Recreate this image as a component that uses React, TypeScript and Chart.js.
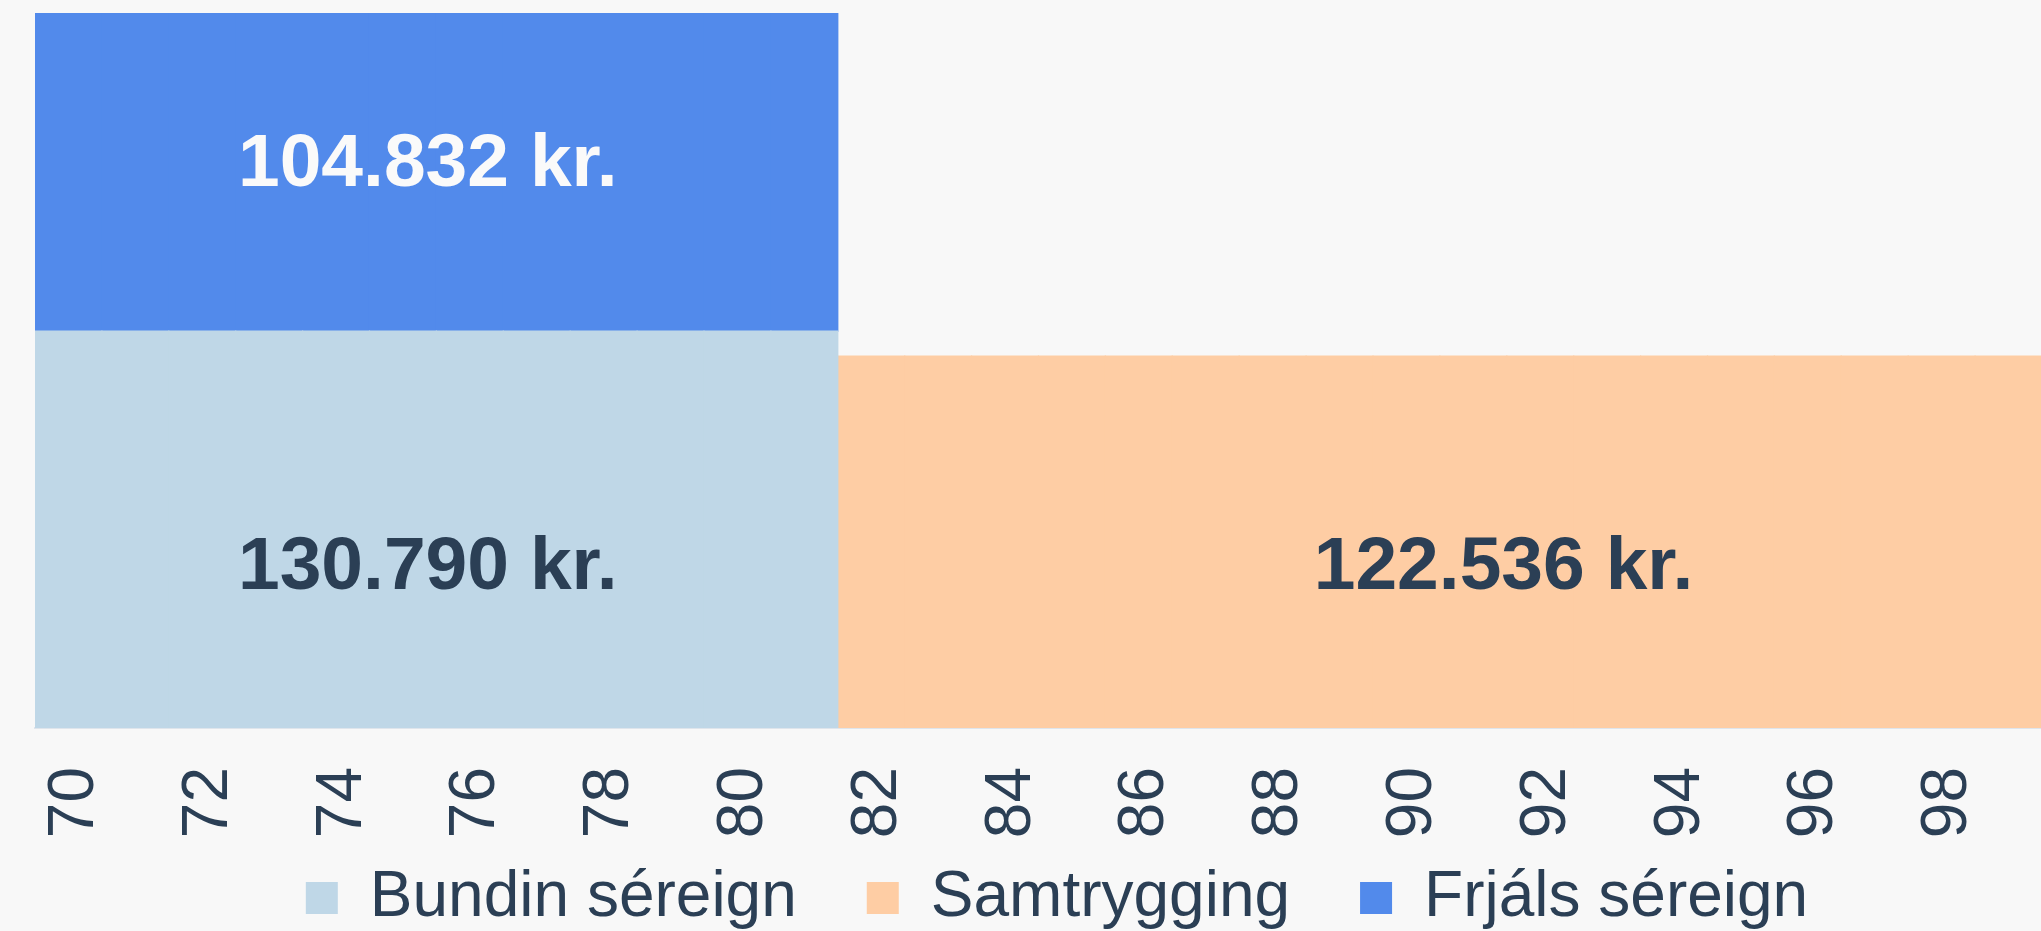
import React, { useEffect, useRef } from 'react';
import { Chart, registerables } from 'chart.js';

Chart.register(...registerables);

// ---- data ----
const categories = [
  70, 71, 72, 73, 74, 75, 76, 77, 78, 79, 80, 81, 82, 83, 84,
  85, 86, 87, 88, 89, 90, 91, 92, 93, 94, 95, 96, 97, 98, 99,
];
const bundinSereign = [
  130790, 130790, 130790, 130790, 130790, 130790, 130790, 130790, 130790, 130790, 130790, 130790,
  null, null, null, null, null, null, null, null, null, null, null, null, null, null, null, null, null, null,
];
const samtrygging = [
  null, null, null, null, null, null, null, null, null, null, null, null,
  122536, 122536, 122536, 122536, 122536, 122536, 122536, 122536, 122536,
  122536, 122536, 122536, 122536, 122536, 122536, 122536, 122536, 122536,
];
const frjalsSereign = [
  104832, 104832, 104832, 104832, 104832, 104832, 104832, 104832, 104832, 104832, 104832, 104832,
  null, null, null, null, null, null, null, null, null, null, null, null, null, null, null, null, null, null,
];
const seriesNames = ['Bundin séreign', 'Samtrygging', 'Frjáls séreign'];
const seriesColors = ['#bfd7e7', '#fecda4', '#528aeb'];

const FONT = '"Liberation Sans", Arial, Helvetica, sans-serif';
const TEXT = '#2b3f55';

function formatKr(v: number): string {
  return String(v).replace(/\B(?=(\d{3})+(?!\d))/g, '.') + ' kr.';
}

const regionLabels = {
  id: 'regionLabels',
  afterDatasetsDraw(chart: any, _args: any, opts: any) {
    const { ctx } = chart;
    const x = chart.scales.x;
    const y = chart.scales.y;
    for (const item of opts.items || []) {
      const ds = chart.data.datasets[item.dataset];
      const value = ds.data.find((v: any) => v != null);
      const i0 = Math.floor(item.at);
      const p0 = x.getPixelForValue(i0);
      const p1 = x.getPixelForValue(i0 + 1);
      const px = p0 + (p1 - p0) * (item.at - i0);
      const py = y.getPixelForValue(item.level);
      ctx.save();
      ctx.font = `bold 75px ${FONT}`;
      ctx.fillStyle = item.color;
      ctx.textAlign = 'center';
      ctx.textBaseline = 'middle';
      ctx.fillText(formatKr(value), px, py);
      ctx.restore();
    }
  },
};

export default function App() {
  const canvasRef = useRef<HTMLCanvasElement | null>(null);

  useEffect(() => {
    if (!canvasRef.current) return;
    const series = [bundinSereign, samtrygging, frjalsSereign];
    const stackMax = Math.max(
      ...categories.map((_, i) => series.reduce((s, arr) => s + (arr[i] ?? 0), 0))
    );
    const chart = new Chart(canvasRef.current, {
      type: 'bar',
      data: {
        labels: categories.map(String),
        datasets: series.map((data, k) => ({
          label: seriesNames[k],
          data,
          backgroundColor: seriesColors[k],
          borderWidth: 0,
          barPercentage: 1,
          categoryPercentage: 1,
          inflateAmount: 0.6,
        })),
      },
      plugins: [regionLabels],
      options: {
        animation: false,
        responsive: true,
        maintainAspectRatio: false,
        layout: { padding: { top: 5, left: 0, right: 0, bottom: 0 } },
        scales: {
          x: {
            stacked: true,
            grid: { display: false, drawTicks: false },
            border: { display: true, color: '#dfe5ec', width: 2 },
            ticks: {
              autoSkip: false,
              maxRotation: 90,
              minRotation: 90,
              padding: 39,
              labelOffset: 7,
              color: TEXT,
              font: { family: FONT, size: 64, lineHeight: 0.6 },
              callback: (_v: any, i: number) => (i % 2 === 0 ? String(categories[i]) : ''),
            },
            afterFit: (s: any) => {
              s.height = 112;
            },
          },
          y: {
            stacked: true,
            min: 0,
            max: stackMax,
            display: true,
            grid: { display: false },
            border: { display: false },
            ticks: { display: false },
            afterFit: (s: any) => {
              s.width = 27;
            },
          },
          y2: {
            type: 'linear',
            position: 'right',
            display: true,
            grid: { display: false },
            border: { display: false },
            ticks: { display: false },
            afterFit: (s: any) => {
              s.width = 64;
            },
          },
        },
        plugins: {
          legend: {
            position: 'bottom',
            title: {
              display: true,
              text: '',
              font: { size: 10, lineHeight: 0 },
              padding: { top: -44, bottom: 0 },
            },
            labels: {
              boxWidth: 32,
              boxHeight: 32,
              padding: 70,
              color: TEXT,
              font: { family: FONT, size: 64 },
            },
          },
          tooltip: { enabled: false },
          regionLabels: {
            items: [
              { dataset: 0, at: 5.37, level: 52700, color: TEXT },
              { dataset: 1, at: 21.45, level: 52700, color: TEXT },
              { dataset: 2, at: 5.37, level: 185500, color: '#fafafa' },
            ],
          },
        } as any,
      },
    });
    return () => chart.destroy();
  }, []);

  return (
    <div
      style={{
        position: 'fixed',
        left: 0,
        top: 0,
        width: '100vw',
        height: '100vh',
        overflow: 'hidden',
        background: '#f8f8f8',
      }}
    >
      <div style={{ position: 'absolute', left: 8, top: 8, width: 2098, height: 932 }}>
        <canvas ref={canvasRef} />
      </div>
    </div>
  );
}
